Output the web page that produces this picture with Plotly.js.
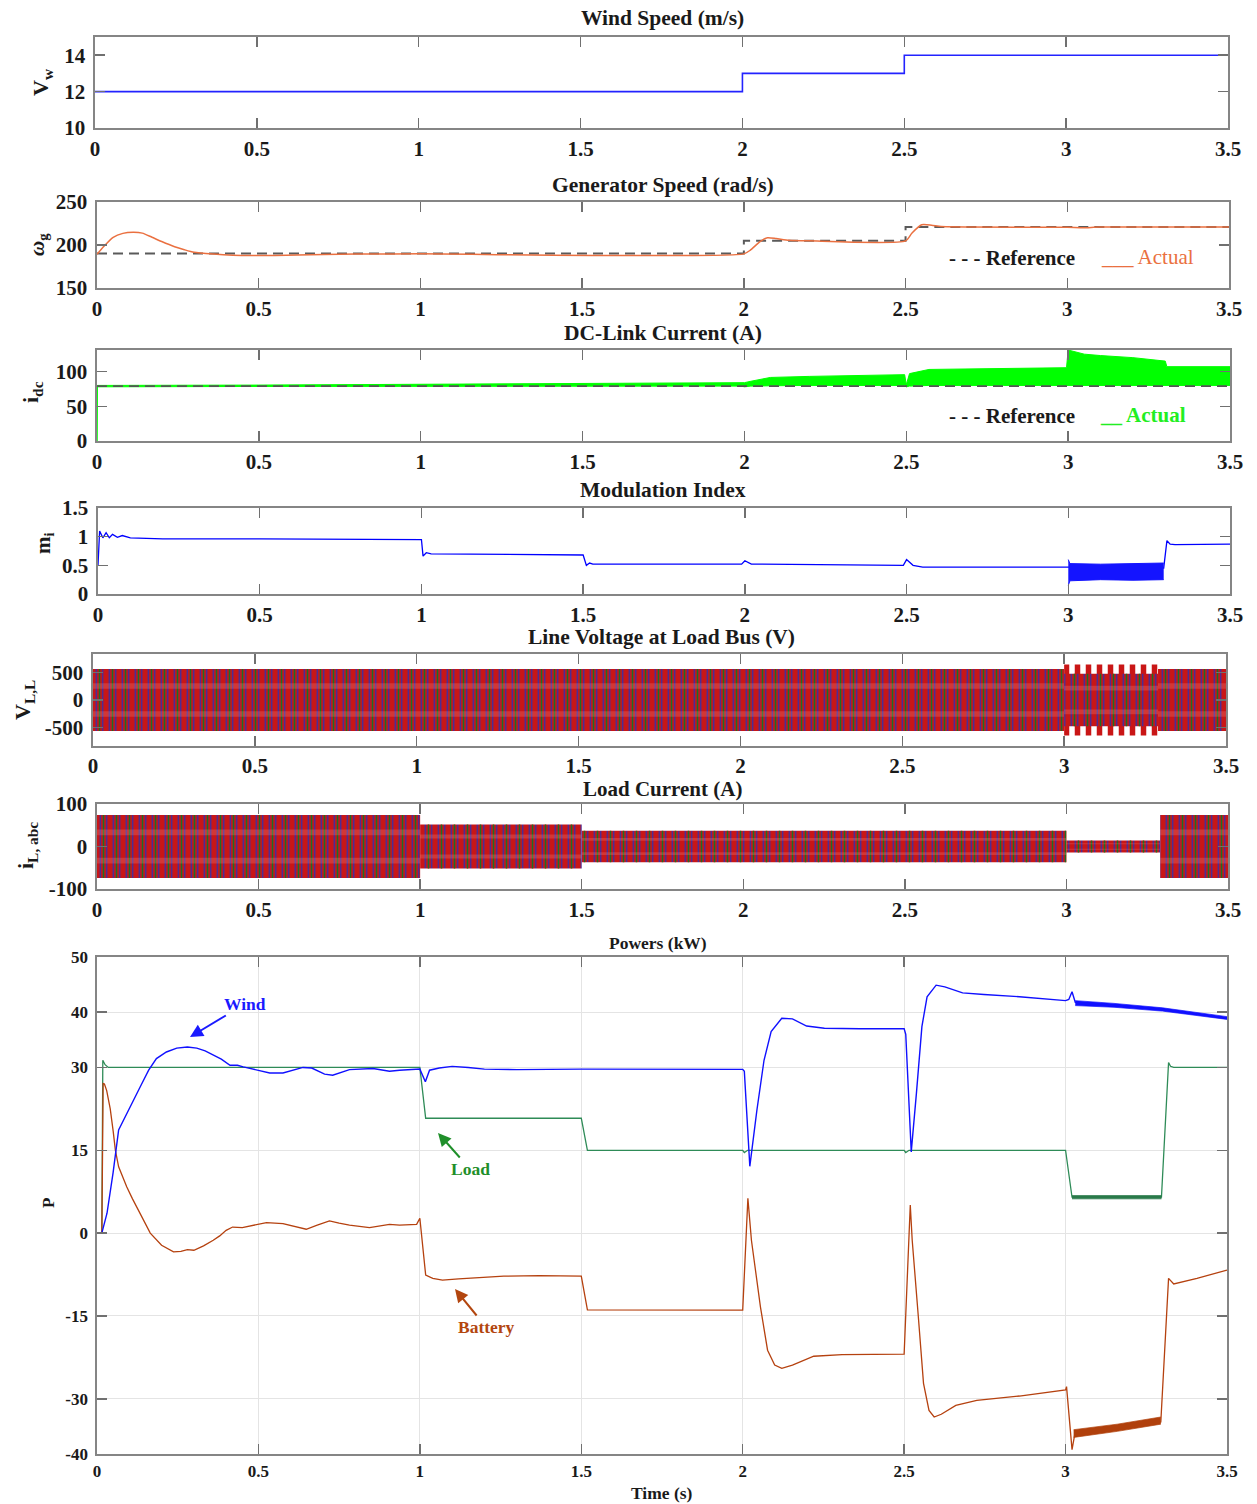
<!DOCTYPE html>
<html><head><meta charset="utf-8">
<script src="https://cdn.plot.ly/plotly-3.0.1.min.js"></script>
<style>html,body{margin:0;padding:0;background:#fff}#chart{width:1257px;height:1504px}</style>
</head><body><div id="chart"></div>
<script>
// ---------------- DATA ----------------
const xTicks = [0, 0.5, 1, 1.5, 2, 2.5, 3, 3.5];
const xTickText = ['0', '0.5', '1', '1.5', '2', '2.5', '3', '3.5'];

// Wind speed (m/s)
const windT = [0, 2, 2.5, 3.5];
const windV = [12, 13, 14, 14];

// Generator speed (rad/s)
const genRefT = [0, 2, 2, 2.5, 2.5, 3.5];
const genRefV = [190, 190, 205, 205, 221, 221];
const genActT = [0, 0.02, 0.05, 0.08, 0.112, 0.14, 0.17, 0.2, 0.24, 0.27, 0.3, 0.36, 0.42, 0.48, 0.55, 0.62, 0.7, 0.8, 1.0, 2.0, 2.02, 2.05, 2.073, 2.1, 2.14, 2.2, 2.5, 2.52, 2.55, 2.58, 2.61, 2.7, 3.0, 3.05, 3.1, 3.5];
const genActV = [189.3, 198, 209, 213.5, 214.7, 213.8, 209, 204, 198, 194.5, 191.5, 189.5, 188.2, 187.7, 187.8, 188.5, 189, 189.5, 189.7, 189.7, 194, 204, 208.5, 207.5, 205.4, 204.8, 204.8, 214, 223.5, 223, 221.5, 221, 220.5, 220, 220.8, 221];

// DC-link current (A)
const idcRefT = [0, 3.5];
const idcRefV = [79, 79];
const idcT  = [0, 0.001, 0.5, 1.0, 1.5, 1.99, 2.0, 2.02, 2.08, 2.2, 2.495, 2.5, 2.51, 2.57, 2.8, 2.995, 3.0, 3.05, 3.1, 3.2, 3.3, 3.305, 3.5];
const idcHi = [0, 80, 80.5, 81.5, 83, 84.5, 84, 86, 91.5, 93, 95.5, 81, 97, 103, 104.5, 105.5, 131, 125, 123, 120, 115, 107, 107];
const idcLo = [0, 78, 78.5, 79, 79, 79, 78, 79, 79.5, 80, 80, 78, 79, 80, 80, 80, 80, 80, 80, 80, 80, 80, 80];

// Modulation index
const miT = [0, 0.005, 0.015, 0.025, 0.035, 0.045, 0.06, 0.075, 0.1, 0.2, 0.5, 0.99, 1.0, 1.005, 1.015, 1.03, 1.49, 1.5, 1.51, 1.52, 1.53, 1.99, 2.0, 2.02, 2.05, 2.49, 2.5, 2.52, 2.55, 2.99, 3.0, 3.295, 3.305, 3.315, 3.33, 3.5];
const miV = [0.5, 1.1, 0.98, 1.07, 0.98, 1.04, 0.99, 1.02, 0.98, 0.96, 0.96, 0.96, 0.95, 0.66, 0.72, 0.70, 0.69, 0.68, 0.50, 0.54, 0.52, 0.52, 0.58, 0.52, 0.52, 0.50, 0.60, 0.50, 0.47, 0.47, 0.47, 0.45, 0.93, 0.87, 0.86, 0.87];
const miBandT  = [3.0, 3.005, 3.1, 3.2, 3.295];
const miBandHi = [0.60, 0.53, 0.52, 0.53, 0.54];
const miBandLo = [0.15, 0.23, 0.25, 0.24, 0.25];

// Line voltage at load bus (V): envelope per segment
const vllSegT0 = [0, 3.0, 3.29];
const vllSegT1 = [3.0, 3.29, 3.5];
const vllAmp   = [560, 640, 560];

// Load current (A): envelope per segment
const iLSegT0 = [0, 1.0, 1.5, 3.0, 3.29];
const iLSegT1 = [1.0, 1.5, 3.0, 3.29, 3.5];
const iLAmp   = [74, 52, 37, 14, 74];

// Powers (kW)
const pWindT = [0, 0.015, 0.031, 0.05, 0.067, 0.092, 0.134, 0.16, 0.184, 0.215, 0.247, 0.28, 0.309, 0.335, 0.36, 0.385, 0.412, 0.435, 0.453, 0.494, 0.535, 0.576, 0.61, 0.638, 0.665, 0.705, 0.73, 0.782, 0.855, 0.906, 0.937, 0.99, 1.0, 1.017, 1.03, 1.06, 1.1, 1.15, 1.2, 1.3, 1.5, 2.0, 2.005, 2.022, 2.044, 2.066, 2.088, 2.121, 2.154, 2.198, 2.253, 2.363, 2.5, 2.505, 2.522, 2.538, 2.555, 2.571, 2.599, 2.626, 2.681, 2.747, 2.857, 3.0, 3.01, 3.02, 3.03, 3.1, 3.187, 3.297, 3.407, 3.5];
const pWindV = [0, 0, 3.6, 11, 18.7, 21.7, 26.5, 29.5, 31.6, 32.8, 33.5, 33.7, 33.5, 33, 32.2, 31.5, 30.4, 30.4, 30.1, 29.5, 29.0, 29.0, 29.5, 30.0, 29.9, 28.8, 28.6, 29.6, 29.8, 29.3, 29.5, 29.6, 29.7, 27.4, 29.5, 29.9, 30.2, 30.0, 29.7, 29.6, 29.7, 29.65, 29.3, 12.1, 22.3, 31.3, 36.5, 38.9, 38.8, 37.5, 37.1, 37.0, 37.0, 36.0, 14.7, 25.3, 37.4, 42.8, 44.9, 44.6, 43.5, 43.2, 42.8, 42.1, 42.3, 43.7, 41.8, 41.6, 41.1, 40.4, 39.6, 38.9];
const pLoadT = [0, 0.015, 0.018, 0.025, 0.035, 1.0, 1.018, 1.5, 1.519, 2.0, 2.005, 2.015, 2.5, 2.505, 2.515, 3.0, 3.02, 3.297, 3.319, 3.325, 3.335, 3.5];
const pLoadV = [0, 0, 31.3, 30.5, 30.0, 30.0, 20.8, 20.8, 15.0, 15.0, 14.6, 15.0, 15.0, 14.6, 15.0, 15.0, 6.5, 6.5, 30.9, 30.2, 30.0, 30.0];
const pBattT = [0, 0.015, 0.019, 0.023, 0.03, 0.041, 0.05, 0.057, 0.067, 0.08, 0.092, 0.11, 0.134, 0.165, 0.2, 0.237, 0.26, 0.28, 0.3, 0.33, 0.36, 0.38, 0.4, 0.42, 0.45, 0.484, 0.525, 0.576, 0.61, 0.648, 0.68, 0.72, 0.75, 0.782, 0.844, 0.906, 0.937, 0.99, 1.0, 1.018, 1.04, 1.07, 1.12, 1.19, 1.26, 1.37, 1.5, 1.519, 2.0, 2.016, 2.027, 2.055, 2.077, 2.099, 2.121, 2.154, 2.22, 2.308, 2.5, 2.519, 2.525, 2.544, 2.56, 2.577, 2.593, 2.615, 2.66, 2.725, 2.857, 3.0, 3.003, 3.02, 3.028, 3.077, 3.187, 3.295, 3.319, 3.335, 3.407, 3.45, 3.5];
const pBattV = [0, 0, 27.1, 27.0, 25.8, 22.5, 18.5, 15.0, 12.0, 10.0, 8.4, 6.2, 3.6, 0, -2.2, -3.4, -3.3, -3.0, -3.1, -2.3, -1.3, -0.5, 0.5, 1.1, 1.0, 1.45, 1.9, 1.7, 1.2, 0.7, 1.4, 2.2, 1.8, 1.45, 1.0, 1.6, 1.45, 1.6, 2.7, -7.6, -8.2, -8.5, -8.3, -8.0, -7.8, -7.7, -7.8, -13.9, -13.95, 6.3, -1.3, -13.4, -21.2, -23.9, -24.5, -23.9, -22.3, -22.0, -21.9, 5.1, -1.3, -15.2, -27.2, -32.1, -33.3, -32.8, -31.2, -30.3, -29.5, -28.4, -27.8, -39.2, -36.6, -36.0, -35.1, -34.2, -8.2, -9.2, -8.2, -7.5, -6.7];
// noisy stretches (envelopes)
const windNoiseT = [3.03, 3.15, 3.3, 3.5];
const windNoiseLo = [41.2, 40.9, 40.2, 38.7];
const windNoiseHi = [42.1, 41.6, 40.8, 39.2];
const loadNoiseT = [3.02, 3.297];
const loadNoiseLo = [6.2, 6.2];
const loadNoiseHi = [6.8, 6.8];
const battNoiseT = [3.025, 3.16, 3.295];
const battNoiseLo = [-37.0, -35.9, -34.6];
const battNoiseHi = [-35.6, -34.6, -33.3];

// ---------------- LAYOUT ----------------
const W = 1257, H = 1504;
const px = v => v / W, py = v => 1 - v / H;
const boxes = [[95,1228,37,128],[97,1229,202,288],[97,1230,350,441],[98,1230,508,594],[93,1226,654,746],[97,1228,804,889],[97,1227,957,1454]];
const yRanges = [[10,15],[150,250],[0,131],[0,1.5],[-830,830],[-100,100],[-40,50]];
const yTickVals = [[10,12,14],[150,200,250],[0,50,100],[0,0.5,1,1.5],[-500,0,500],[-100,0,100],[-40,-30,-15,0,15,30,40,50]];
const yTickText = [['10','12','14'],['150','200','250'],['0','50','100'],['0','0.5','1','1.5'],['-500','0','500'],['-100','0','100'],['-40','-30','-15','0','15','30','40','50']];
const SERIF = 'Liberation Serif, Times New Roman, serif';

const layout = {width: W, height: H, margin: {l:0, r:0, t:0, b:0}, paper_bgcolor:'#fff', plot_bgcolor:'#fff', showlegend:false, annotations:[]};
boxes.forEach((b, i) => {
  const n = i + 1, s = n > 1 ? n : '';
  const fs = n === 7 ? 17 : 21;
  const grid = n === 7;
  const common = {ticks:'inside', ticklen:10, tickwidth:1.5, tickcolor:'#707070', showline:true, linecolor:'#858585', linewidth:1.6, mirror:'ticks', showgrid:grid, gridcolor:'#e4e4e4', gridwidth:1, zeroline:false, fixedrange:true, tickfont:{family:SERIF, size:fs, color:'#1a1a1a', weight:'bold'}};
  layout['xaxis'+s] = Object.assign({domain:[px(b[0]), px(b[1])], range:[0,3.5], anchor:'y'+s, tickmode:'array', tickvals:xTicks, ticktext:xTickText, ticklabelstandoff:(n === 5 ? 0 : 1)}, common);
  layout['yaxis'+s] = Object.assign({domain:[py(b[3]), py(b[2])], range:yRanges[i], anchor:'x'+s, tickmode:'array', tickvals:yTickVals[i], ticktext:yTickText[i], ticklabelstandoff:4}, common);
});

function ann(text, x, y, size, color, extra) {
  layout.annotations.push(Object.assign({text, xref:'paper', yref:'paper', x:px(x), y:py(y), xanchor:'center', yanchor:'middle', showarrow:false, font:{family:SERIF, size, color, weight:'bold'}}, extra || {}));
}
// titles
ann('Wind Speed (m/s)', 662, 18, 21.5, '#1a1a1a');
ann('Generator Speed (rad/s)', 663, 185, 21.5, '#1a1a1a');
ann('DC-Link Current (A)', 663, 333, 21.5, '#1a1a1a');
ann('Modulation Index', 663, 490, 21.5, '#1a1a1a');
ann('Line Voltage at Load Bus (V)', 661, 637, 21.5, '#1a1a1a');
ann('Load Current (A)', 662, 789, 21, '#1a1a1a');
ann('Powers (kW)', 658, 943, 17.5, '#1a1a1a');
ann('Time (s)', 662, 1493, 17.5, '#1a1a1a');
// y labels
ann('V<sub>w</sub>', 42, 82, 22, '#1a1a1a', {textangle:-90});
ann('<i>ω</i><sub>g</sub>', 38, 245, 21, '#1a1a1a', {textangle:-90});
ann('i<sub>dc</sub>', 32, 392, 22, '#1a1a1a', {textangle:-90});
ann('m<sub>i</sub>', 44, 543, 21, '#1a1a1a', {textangle:-90});
ann('V<sub>L,L</sub>', 24, 700, 22, '#1a1a1a', {textangle:-90});
ann('i<sub>L, abc</sub>', 27, 845, 22, '#1a1a1a', {textangle:-90});
ann('P', 48, 1203, 17, '#1a1a1a', {textangle:-90});
// legends
ann('- - - Reference', 1012, 258, 21, '#1a1a1a');
ann('___ Actual', 1147, 257, 21, '#ea7040', {font:{family:SERIF, size:21, color:'#ea7040', weight:'normal'}});
ann('- - - Reference', 1012, 416, 21, '#1a1a1a');
ann('__ Actual', 1143, 415, 21, '#22ee22');
// power arrows
function arrowAnn(text, hx, hy, tx, ty, color) {
  layout.annotations.push({text, xref:'paper', yref:'paper', x:px(hx), y:py(hy), ax:tx-hx, ay:ty-hy, axref:'pixel', ayref:'pixel', showarrow:true, arrowhead:2, arrowsize:1.3, arrowwidth:2, arrowcolor:color, standoff:0, font:{family:SERIF, size:17.5, color, weight:'bold'}});
}
arrowAnn('Wind', 190, 1037, 245, 1004, '#1a1aff');
arrowAnn('Load', 438, 1133, 470, 1169, '#1f8f2a');
arrowAnn('Battery', 455, 1289, 486, 1327, '#b3460f');

// ---------------- TRACES ----------------
const traces = [];
function ax(n) { return n > 1 ? {xaxis:'x'+n, yaxis:'y'+n} : {xaxis:'x', yaxis:'y'}; }
function line(n, x, y, color, width, extra) {
  traces.push(Object.assign({type:'scatter', mode:'lines', x, y, line:Object.assign({color, width}, (extra && extra.line) || {}), hoverinfo:'skip'}, ax(n)));
}
function band(n, t, lo, hi, color, width) {
  traces.push(Object.assign({type:'scatter', mode:'lines', x:t, y:lo, line:{color, width}, hoverinfo:'skip'}, ax(n)));
  traces.push(Object.assign({type:'scatter', mode:'lines', x:t, y:hi, line:{color, width}, fill:'tonexty', fillcolor:color, hoverinfo:'skip'}, ax(n)));
}
function poly(n, t0, t1, y0, y1, extra) {
  traces.push(Object.assign({type:'scatter', mode:'lines', x:[t0, t1, t1, t0, t0], y:[y1, y1, y0, y0, y1], line:{width:0, color:'rgba(0,0,0,0)'}, fill:'toself', fillcolor:'rgba(0,0,0,0)', hoverinfo:'skip'}, ax(n), extra));
}
const patMain = {shape:'|', bgcolor:'#c91616', fgcolor:'#2a32b8', size:6.5, solidity:0.2, fillmode:'replace'};
const patGreen = {shape:'|', bgcolor:'rgba(0,0,0,0)', fgcolor:'#1d6e26', size:13, solidity:0.12, fillmode:'replace'};
const patLoose = {shape:'|', bgcolor:'#ffffff', fgcolor:'#c91616', size:11, solidity:0.5, fillmode:'replace'};
function threePhase(n, t0, t1, a) {
  poly(n, t0, t1, -a, a, {fillpattern:patMain});
  poly(n, t0, t1, -a, a, {fillpattern:patGreen});
  poly(n, t0, t1, 0.36 * a, 0.54 * a, {fillcolor:'rgba(255,190,180,0.2)'});
  poly(n, t0, t1, -0.54 * a, -0.36 * a, {fillcolor:'rgba(255,190,180,0.2)'});
}

// 1 wind speed
line(1, windT, windV, '#2323ff', 1.6, {line:{shape:'hv'}});
// 2 generator speed
line(2, genRefT, genRefV, '#5a5a5a', 2, {line:{dash:'10px,6px'}});
line(2, genActT, genActV, '#ea7040', 1.5, {line:{shape:'spline', smoothing:0.6}});
// 3 dc-link current
band(3, idcT, idcLo, idcHi, '#00ff00', 1);
line(3, idcRefT, idcRefV, '#555555', 1.8, {line:{dash:'10px,6px'}});
// 4 modulation index
line(4, miT, miV, '#0000ff', 1.3);
band(4, miBandT, miBandLo, miBandHi, '#1414ff', 1);
// 5 line voltage
vllAmp.forEach((a, k) => {
  if (k === 1) {
    poly(5, vllSegT0[k], vllSegT1[k], -a, a, {fillpattern:patLoose});
    threePhase(5, vllSegT0[k], vllSegT1[k], a * 0.74);
  } else {
    threePhase(5, vllSegT0[k], vllSegT1[k], a);
  }
});
// 6 load current
iLAmp.forEach((a, k) => threePhase(6, iLSegT0[k], iLSegT1[k], a));
// 7 powers
line(7, pLoadT, pLoadV, '#2e8b57', 1.3);
band(7, loadNoiseT, loadNoiseLo, loadNoiseHi, '#2a7a4a', 0.7);
line(7, pBattT, pBattV, '#b5410f', 1.3);
band(7, battNoiseT, battNoiseLo, battNoiseHi, '#b0400c', 0.7);
line(7, pWindT, pWindV, '#1010ff', 1.4);
band(7, windNoiseT, windNoiseLo, windNoiseHi, '#1010ff', 0.7);

Plotly.newPlot('chart', traces, layout, {staticPlot:true, displayModeBar:false});
</script></body></html>
